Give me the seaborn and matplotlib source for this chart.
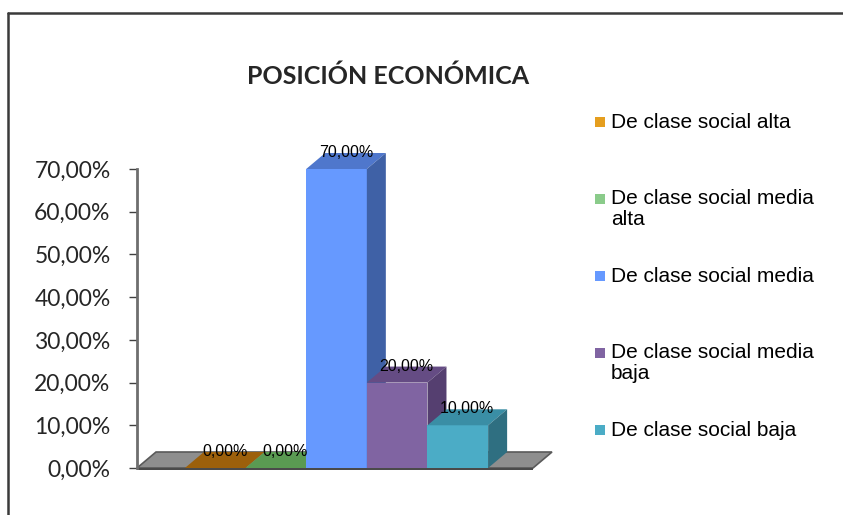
import textwrap

import matplotlib
matplotlib.use("Agg")
import matplotlib.pyplot as plt
import pandas as pd
import seaborn as sns
from matplotlib.lines import Line2D
from matplotlib.patches import Polygon, Rectangle
from matplotlib.ticker import FixedLocator, FuncFormatter

# ---- data -------------------------------------------------------------
categorias = [
    "De clase social alta",
    "De clase social media alta",
    "De clase social media",
    "De clase social media baja",
    "De clase social baja",
]
porcentajes = [0.0, 0.0, 70.0, 20.0, 10.0]
ticks_y = [0, 10, 20, 30, 40, 50, 60, 70]
titulo = "POSICIÓN ECONÓMICA"

# ---- style ------------------------------------------------------------
color_frente = ["#E59E1E", "#8ACB8A", "#6699FF", "#8064A2", "#4BACC6"]
color_tapa = ["#9C600B", "#5A9A52", "#4F77CC", "#654C84", "#3A8EA5"]
color_lado = ["#7A4A08", "#467A40", "#3F61A6", "#553F70", "#2F6F81"]

sns.set_theme(style="white")
plt.rcParams["font.family"] = ["Liberation Sans", "DejaVu Sans"]

W, H = 843, 515
fig = plt.figure(figsize=(W / 100, H / 100), dpi=100)
fig.patch.set_facecolor("white")

# plot area in pixel geometry
x0_px, x1_px, y0_px, y1_px = 137, 533, 468, 169
ax = fig.add_axes([x0_px / W, 1 - y0_px / H, (x1_px - x0_px) / W, (y0_px - y1_px) / H])

df = pd.DataFrame({"categoria": categorias, "porcentaje": porcentajes})
sns.barplot(
    data=df, x="categoria", y="porcentaje", hue="categoria",
    palette=color_frente, width=1.0, saturation=1, legend=False,
    edgecolor="none", linewidth=0, ax=ax,
)

ax.set_xlim(-1.29, 5.24)
ax.set_ylim(0, 70)

# oblique depth of the pseudo-3D extrusion, in data units
px_x = (x1_px - x0_px) / (ax.get_xlim()[1] - ax.get_xlim()[0])
px_y = (y0_px - y1_px) / (ax.get_ylim()[1] - ax.get_ylim()[0])
dx = 19 / px_x
dy = 16 / px_y

# floor
xl, xr = ax.get_xlim()
ax.add_patch(Polygon([(xl, 0), (xr, 0), (xr + dx, dy), (xl + dx, dy)],
                     closed=True, facecolor="#8E8E8E", edgecolor="#5A5A5A",
                     linewidth=1.2, zorder=1, clip_on=False))
ax.add_patch(Polygon([(xl, 0), (xr, 0), (xr, -0.5), (xl, -0.5)],
                     closed=True, facecolor="#4A4A4A", edgecolor="none",
                     zorder=1, clip_on=False))

# extrude each bar: top and right side faces
for i, bar in enumerate(ax.patches[:len(categorias)]):
    x = bar.get_x()
    w = bar.get_width()
    h = bar.get_height()
    base = 3 + i
    bar.set_zorder(base)
    bar.set_clip_on(False)
    ax.add_patch(Polygon([(x, h), (x + w, h), (x + w + dx, h + dy), (x + dx, h + dy)],
                         closed=True, facecolor=color_tapa[i], edgecolor="none",
                         zorder=base, clip_on=False))
    if h > 0:
        ax.add_patch(Polygon([(x + w, 0), (x + w, h), (x + w + dx, h + dy), (x + w + dx, dy)],
                             closed=True, facecolor=color_lado[i], edgecolor="none",
                             zorder=base, clip_on=False))
    etiqueta = f"{porcentajes[i]:.2f}".replace(".", ",") + "%"
    ax.annotate(etiqueta, (x + w / 2 + dx / 2, h + dy / 2), xytext=(0, 6),
                textcoords="offset points", ha="center", va="center",
                fontsize=11.5, color="black", zorder=20, annotation_clip=False)

# axes styling
for s in ["top", "right", "bottom"]:
    ax.spines[s].set_visible(False)
ax.spines["left"].set_color("#6E6E6E")
ax.spines["left"].set_linewidth(2)
ax.set_xticks([])
ax.set_xlabel("")
ax.set_ylabel("")
ax.yaxis.set_major_locator(FixedLocator(ticks_y))
ax.yaxis.set_major_formatter(FuncFormatter(lambda v, _: f"{v:.2f}".replace(".", ",") + "%"))
ax.tick_params(axis="y", left=True, length=6, width=1, color="#404040", pad=13,
               labelsize=16.5)
for lab in ax.get_yticklabels():
    lab.set_family(["Lato", "DejaVu Sans"])
ax.patch.set_alpha(0)

# title
fig.text(388 / W, 1 - 76 / H, titulo, ha="center", va="center",
         fontsize=18, fontweight="bold", family=["Lato", "DejaVu Sans"])

# legend
for i, cat in enumerate(categorias):
    base_px = 127 + 77 * i
    fig.add_artist(Rectangle((595 / W, 1 - base_px / H), 10 / W, 10 / H,
                             transform=fig.transFigure, facecolor=color_frente[i],
                             edgecolor="none"))
    fig.text(611 / W, 1 - (base_px - 14.5) / H, textwrap.fill(cat, 21),
             ha="left", va="top", fontsize=15, linespacing=1.12, color="black")

# outer frame
fig.add_artist(Line2D([8 / W, 8 / W], [0, 1 - 13 / H], transform=fig.transFigure,
                      color="#3A3A3A", linewidth=1.8))
fig.add_artist(Line2D([8 / W, 1], [1 - 13 / H, 1 - 13 / H], transform=fig.transFigure,
                      color="#3A3A3A", linewidth=1.8))

fig.savefig("out.png", dpi=100)
